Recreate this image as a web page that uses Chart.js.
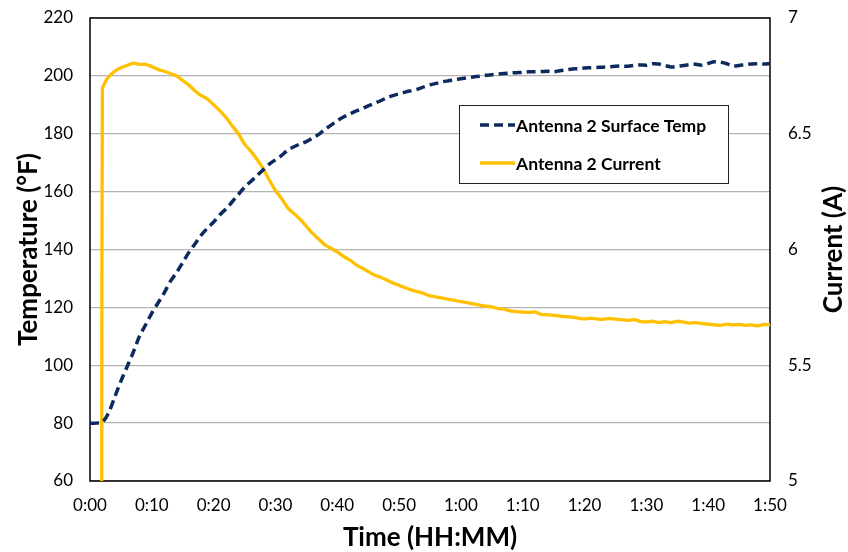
<!DOCTYPE html>
<html>
<head>
<meta charset="utf-8">
<title>Antenna 2 warm-up</title>
<script src="https://cdn.jsdelivr.net/npm/chart.js@4/dist/chart.umd.min.js"></script>
<style>
  html, body { margin: 0; padding: 0; background: #fff; }
  #wrap { width: 848px; height: 552px; }
</style>
</head>
<body>
<div id="wrap"><canvas id="antennaChart" width="848" height="552"></canvas></div>
<script>
// SERIES DATA (time in minutes since start)
const tempMinutes = [
  0, 1, 2, 3, 4, 5, 6, 7, 8, 9, 10, 11, 12, 13, 14, 15, 16, 17, 18, 19,
  20, 21, 22, 23, 24, 25, 26, 27, 28, 29, 30, 31, 32, 33, 34, 35, 36, 37, 38, 39,
  40, 41, 42, 43, 44, 45, 46, 47, 48, 49, 50, 51, 52, 53, 54, 55, 56, 57, 58, 59,
  60, 61, 62, 63, 64, 65, 66, 67, 68, 69, 70, 71, 72, 73, 74, 75, 76, 77, 78, 79,
  80, 81, 82, 83, 84, 85, 86, 87, 88, 89, 90, 91, 92, 93, 94, 95, 96, 97, 98, 99,
  100, 101, 102, 103, 104, 105, 106, 107, 108, 109, 110
];
const surfaceTemp = [
  80, 80, 80.3, 83.5, 89, 94.5, 99.5, 104.5, 110, 114, 118, 121.5, 125, 129, 132, 135.5, 139, 142, 145, 147.4,
  149.5, 152, 154, 156.5, 159, 161.5, 163.5, 165.5, 167.5, 169.5, 171, 172.5, 174.4, 175.5, 176.5, 177.3, 178.5, 179.8, 181.5, 183,
  184.5, 185.8, 186.8, 187.8, 188.7, 189.6, 190.5, 191.4, 192.4, 193.2, 193.8, 194.4, 194.9, 195.4, 196.2, 196.9, 197.4, 197.9, 198.3, 198.7,
  199, 199.3, 199.6, 199.9, 200.2, 200.4, 200.6, 200.8, 201, 201.1, 201.2, 201.4, 201.4, 201.5, 201.6, 201.4, 201.8, 202.1, 202.4, 202.5,
  202.7, 202.8, 202.9, 203, 203.1, 203.3, 203.4, 203.3, 203.6, 203.8, 203.7, 204.2, 204.1, 203.6, 203.1, 203.3, 203.6, 203.9, 204, 203.7,
  204.3, 204.9, 204.7, 204.2, 203.4, 203.6, 203.9, 204.1, 204.2, 204.1, 204.2
];

const currentMinutes = [
  1.9, 2.0, 2.4, 3, 4, 5, 6, 7, 8, 9, 10, 11, 12, 13, 14, 15, 16, 17, 18, 19,
  20, 21, 22, 23, 24, 25, 26, 27, 28, 29, 30, 31, 32, 33, 34, 35, 36, 37, 38, 39,
  40, 41, 42, 43, 44, 45, 46, 47, 48, 49, 50, 51, 52, 53, 54, 55, 56, 57, 58, 59,
  60, 61, 62, 63, 64, 65, 66, 67, 68, 69, 70, 71, 72, 73, 74, 75, 76, 77, 78, 79,
  80, 81, 82, 83, 84, 85, 86, 87, 88, 89, 90, 91, 92, 93, 94, 95, 96, 97, 98, 99,
  100, 101, 102, 103, 104, 105, 106, 107, 108, 109, 110
];
const antennaCurrent = [
  5.0, 6.69, 6.72, 6.745, 6.77, 6.785, 6.795, 6.805, 6.8, 6.8, 6.79, 6.778, 6.77, 6.76, 6.75, 6.73, 6.71, 6.685, 6.665, 6.65,
  6.625, 6.6, 6.57, 6.535, 6.5, 6.455, 6.425, 6.39, 6.35, 6.3, 6.255, 6.22, 6.18, 6.155, 6.13, 6.1, 6.07, 6.045, 6.02, 6.005,
  5.99, 5.97, 5.955, 5.935, 5.92, 5.905, 5.89, 5.88, 5.868, 5.855, 5.845, 5.835, 5.825, 5.818, 5.81, 5.8, 5.795, 5.79, 5.785, 5.78,
  5.775, 5.77, 5.765, 5.76, 5.755, 5.752, 5.745, 5.742, 5.735, 5.732, 5.73, 5.728, 5.73, 5.72, 5.718, 5.716, 5.712, 5.71, 5.708, 5.704,
  5.7, 5.703, 5.7, 5.698, 5.702, 5.699, 5.697, 5.694, 5.697, 5.69, 5.687, 5.69, 5.685, 5.688, 5.684, 5.69, 5.686, 5.682, 5.684, 5.68,
  5.678, 5.675, 5.672, 5.678, 5.674, 5.676, 5.672, 5.674, 5.67, 5.676, 5.675
];

// AXIS TICKS
const timeTicks = [0, 10, 20, 30, 40, 50, 60, 70, 80, 90, 100, 110];
const tempTicks = [60, 80, 100, 120, 140, 160, 180, 200, 220];
const currentTicks = [5, 5.5, 6, 6.5, 7];

const NAVY = "#0d2a5e";
const GOLD = "#ffc000";
const FONT = "Lato, 'Open Sans', sans-serif";

function toPoints(xs, ys) {
    return xs.map((x, i) => ({ x: x, y: ys[i] }));
}

function fmtTime(min) {
    const h = Math.floor(min / 60);
    const m = Math.round(min % 60);
    return h + ":" + String(m).padStart(2, "0");
}

// fixed axis sizes so the plot box lands where it should
function fixVertical(width) {
    return s => {
        s.width = width;
        s.paddingTop = 0;
        s.paddingBottom = 0;
    };
}

// plot frame, axis titles and the boxed legend
const decorations = {
    id: "decorations",
    beforeDatasetsDraw(chart) {
        const { ctx, chartArea: a } = chart;
        ctx.save();
        ctx.strokeStyle = "#000";
        ctx.lineWidth = 1.5;
        ctx.strokeRect(a.left, a.top, a.right - a.left, a.bottom - a.top);
        ctx.restore();
    },
    afterDraw(chart) {
        const { ctx, chartArea: a } = chart;
        const midY = (a.top + a.bottom) / 2;
        ctx.save();
        ctx.fillStyle = "#000";
        ctx.font = "bold 26px " + FONT;
        ctx.textAlign = "center";
        ctx.textBaseline = "middle";

        ctx.fillText("Time (HH:MM)", (a.left + a.right) / 2, 538);

        ctx.save();
        ctx.translate(29, midY);
        ctx.rotate(-Math.PI / 2);
        ctx.fillText("Temperature (°F)", 0, 0);
        ctx.restore();

        ctx.save();
        ctx.translate(834, midY);
        ctx.rotate(-Math.PI / 2);
        ctx.fillText("Current (A)", 0, 0);
        ctx.restore();

        // legend box
        const box = { x: 459, y: 105, w: 269, h: 78 };
        ctx.fillStyle = "#fff";
        ctx.fillRect(box.x, box.y, box.w, box.h);
        ctx.strokeStyle = "#222";
        ctx.lineWidth = 1;
        ctx.strokeRect(box.x + 0.5, box.y + 0.5, box.w, box.h);

        const rows = chart.data.datasets.map((ds, i) => ({ ds: ds, y: box.y + 20 + i * 38 }));
        rows.forEach(r => {
            ctx.beginPath();
            ctx.strokeStyle = r.ds.borderColor;
            ctx.lineWidth = r.ds.borderWidth;
            ctx.setLineDash(r.ds.borderDash || []);
            ctx.moveTo(480, r.y);
            ctx.lineTo(515, r.y);
            ctx.stroke();
            ctx.setLineDash([]);
            ctx.fillStyle = "#000";
            ctx.font = "bold 17.5px " + FONT;
            ctx.textAlign = "left";
            ctx.fillText(r.ds.label, 516, r.y + 1);
        });
        ctx.restore();
    }
};

const chart = new Chart(document.getElementById("antennaChart"), {
    type: "line",
    data: {
        datasets: [
            {
                label: "Antenna 2 Surface Temp",
                data: toPoints(tempMinutes, surfaceTemp),
                yAxisID: "yTemp",
                borderColor: NAVY,
                borderWidth: 3.5,
                borderDash: [9, 5],
                pointRadius: 0,
                tension: 0.3
            },
            {
                label: "Antenna 2 Current",
                data: toPoints(currentMinutes, antennaCurrent),
                yAxisID: "yCurrent",
                borderColor: GOLD,
                borderWidth: 3.3,
                pointRadius: 0,
                tension: 0.2
            }
        ]
    },
    options: {
        responsive: false,
        animation: false,
        layout: { padding: { top: 18, left: 0, right: 0, bottom: 0 } },
        plugins: {
            legend: { display: false },
            tooltip: { enabled: false }
        },
        scales: {
            x: {
                type: "linear",
                min: 0,
                max: 110,
                afterBuildTicks: s => { s.ticks = timeTicks.map(v => ({ value: v })); },
                afterFit: s => { s.height = 71; s.paddingLeft = 0; s.paddingRight = 0; },
                grid: { display: false, drawTicks: false },
                border: { display: false },
                ticks: {
                    color: "#000",
                    font: { family: FONT, size: 17 },
                    padding: 14,
                    maxRotation: 0,
                    callback: v => fmtTime(v)
                }
            },
            yTemp: {
                position: "left",
                min: 60,
                max: 220,
                afterBuildTicks: s => { s.ticks = tempTicks.map(v => ({ value: v })); },
                afterFit: fixVertical(90),
                grid: { color: "#b4b4b4", lineWidth: 1.3, drawTicks: false },
                border: { display: false },
                ticks: {
                    color: "#000",
                    font: { family: FONT, size: 17 },
                    padding: 17
                }
            },
            yCurrent: {
                position: "right",
                min: 5,
                max: 7,
                afterBuildTicks: s => { s.ticks = currentTicks.map(v => ({ value: v })); },
                afterFit: fixVertical(78),
                grid: { display: false, drawTicks: false },
                border: { display: false },
                ticks: {
                    color: "#000",
                    font: { family: FONT, size: 17 },
                    padding: 18,
                    callback: v => String(v)
                }
            }
        }
    },
    plugins: [decorations]
});
</script>
</body>
</html>
